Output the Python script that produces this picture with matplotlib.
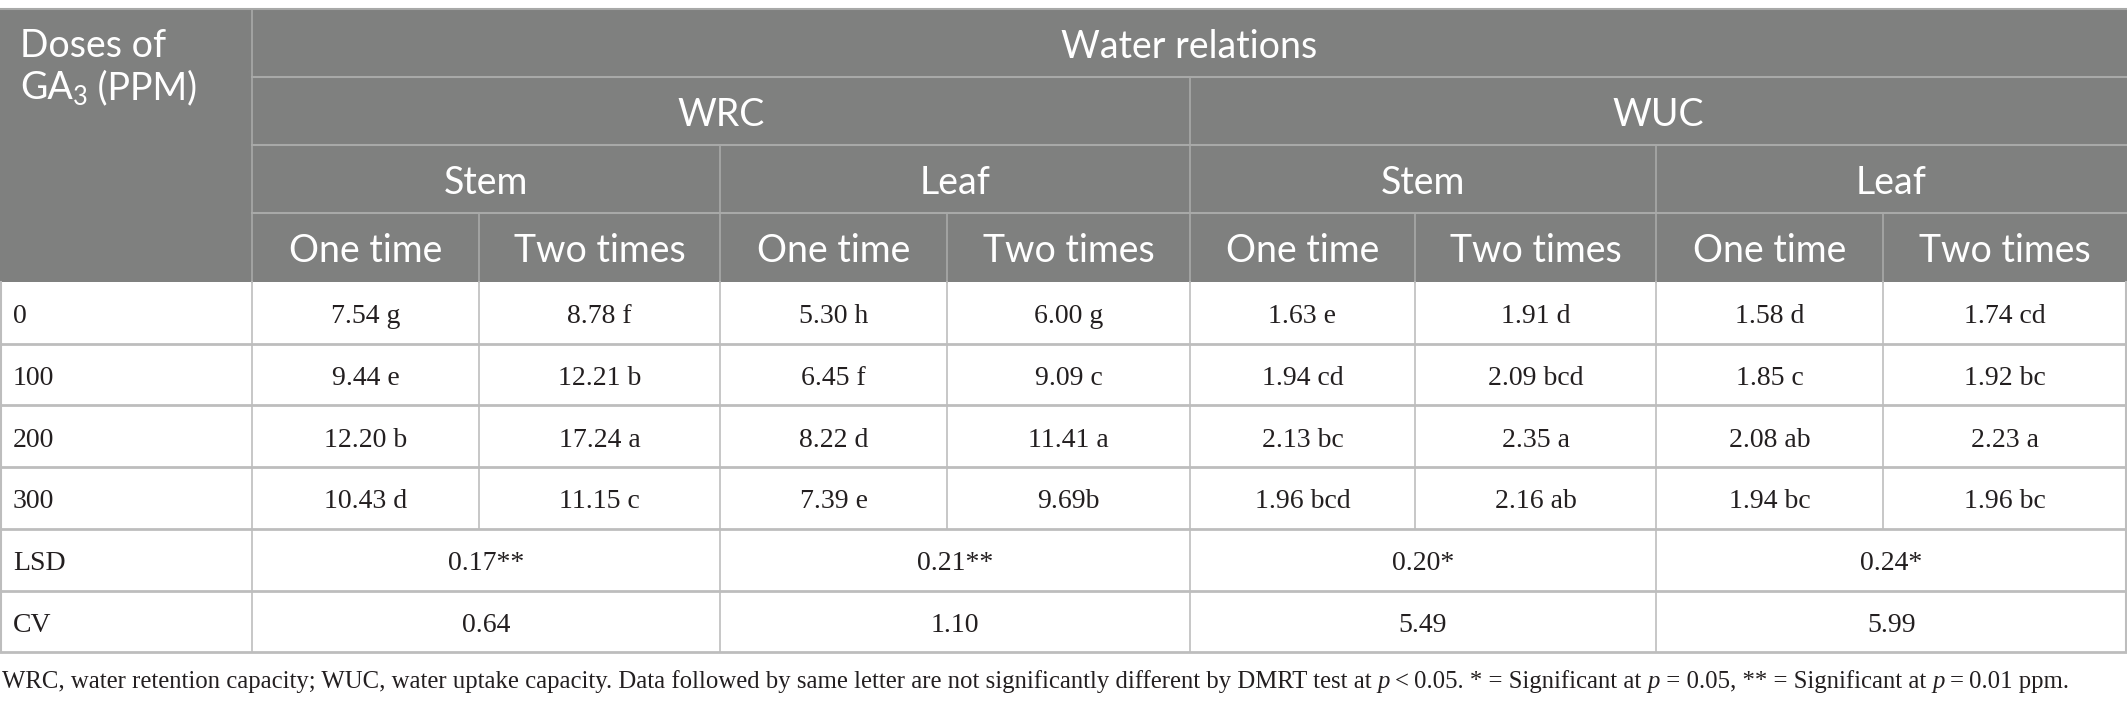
import matplotlib
matplotlib.use('Agg')
import matplotlib.pyplot as plt
from matplotlib.patches import Rectangle

# Table content
doses = ['0', '100', '200', '300']
wrc_stem_one = ['7.54 g', '9.44 e', '12.20 b', '10.43 d']
wrc_stem_two = ['8.78 f', '12.21 b', '17.24 a', '11.15 c']
wrc_leaf_one = ['5.30 h', '6.45 f', '8.22 d', '7.39 e']
wrc_leaf_two = ['6.00 g', '9.09 c', '11.41 a', '9.69b']
wuc_stem_one = ['1.63 e', '1.94 cd', '2.13 bc', '1.96 bcd']
wuc_stem_two = ['1.91 d', '2.09 bcd', '2.35 a', '2.16 ab']
wuc_leaf_one = ['1.58 d', '1.85 c', '2.08 ab', '1.94 bc']
wuc_leaf_two = ['1.74 cd', '1.92 bc', '2.23 a', '1.96 bc']
lsd_values = ['0.17**', '0.21**', '0.20*', '0.24*']
cv_values = ['0.64', '1.10', '5.49', '5.99']

top_header = 'Water relations'
group_header = ['WRC', 'WUC']
part_header = ['Stem', 'Leaf', 'Stem', 'Leaf']
time_header = ['One time', 'Two times'] * 4

W, H = 2127, 711
col_x = [0, 252, 479, 720, 947, 1190, 1415, 1656, 1883, 2127]
head_y = [9, 77, 145, 213, 282]
row_y = [282, 343.7, 405.4, 467, 528.8, 590.5, 652.2]

HEAD_BG = '#7f807f'
HEAD_LINE = '#a8a9a8'
GRID = '#bdbdbd'
TXT = '#231f20'
SANS = 'Lato'
SERIF = 'Liberation Serif'
HFS = 27
DFS = 20

fig = plt.figure(figsize=(W / 100, H / 100), dpi=100)
ax = fig.add_axes([0, 0, 1, 1])
ax.set_xlim(0, W)
ax.set_ylim(H, 0)
ax.axis('off')

# header block
ax.add_patch(Rectangle((0, head_y[0]), W, head_y[-1] - head_y[0],
                       facecolor=HEAD_BG, edgecolor='none'))
ax.plot([0, W], [head_y[0], head_y[0]], color=HEAD_LINE, lw=1.5)
for y in head_y[1:4]:
    ax.plot([col_x[1], W], [y, y], color=HEAD_LINE, lw=1.5)
ax.plot([col_x[1], col_x[1]], [head_y[0], head_y[-1]], color=HEAD_LINE, lw=1.2)
ax.plot([col_x[5], col_x[5]], [head_y[1], head_y[-1]], color=HEAD_LINE, lw=1.2)
for i in (3, 7):
    ax.plot([col_x[i], col_x[i]], [head_y[2], head_y[-1]], color=HEAD_LINE, lw=1.2)
for i in (2, 4, 6, 8):
    ax.plot([col_x[i], col_x[i]], [head_y[3], head_y[-1]], color=HEAD_LINE, lw=1.2)


def cx(a, b):
    return (col_x[a] + col_x[b]) / 2


def htext(x, y0, y1, s):
    # baseline placed so capitals sit centred in the band
    ax.text(x, (y0 + y1) / 2 + 14.5, s, ha='center', va='baseline', color='white',
            fontsize=HFS, family=SANS)


htext(cx(1, 9), head_y[0], head_y[1], top_header)
htext(cx(1, 5), head_y[1], head_y[2], group_header[0])
htext(cx(5, 9), head_y[1], head_y[2], group_header[1])
for k, s in enumerate(part_header):
    htext(cx(1 + 2 * k, 3 + 2 * k), head_y[2], head_y[3], s)
for k, s in enumerate(time_header):
    htext(cx(1 + k, 2 + k), head_y[3], head_y[4], s)

fig.canvas.draw()
renderer = fig.canvas.get_renderer()


def run_text(x, y, pieces, color, base_family, fs):
    # draw a sequence of text pieces one after another, return artists and end x
    inv = ax.transData.inverted()
    arts = []
    for s, kind in pieces:
        size = fs
        yy = y
        style = 'normal'
        if kind == 'sub':
            size = fs * 0.68
            yy = y + fs * 0.22
        elif kind == 'it':
            style = 'italic'
        t = ax.text(x, yy, s, ha='left', va='baseline', color=color, fontsize=size,
                    family=base_family, style=style)
        arts.append(t)
        bb = t.get_window_extent(renderer)
        x = inv.transform((bb.x1, bb.y0))[0]
    return arts, x


# first header cell
ax.text(20, 57, 'Doses of', ha='left', va='baseline', color='white',
        fontsize=HFS, family=SANS)
run_text(20, 99, [('GA', 'n'), ('3', 'sub'), (' (PPM)', 'n')], 'white', SANS, HFS)

# body grid
for y in row_y[1:]:
    ax.plot([0, W], [y, y], color=GRID, lw=2)
ax.plot([0.8, 0.8], [row_y[0], row_y[-1]], color=GRID, lw=1.5)
ax.plot([W - 0.8, W - 0.8], [row_y[0], row_y[-1]], color=GRID, lw=1.5)
for i in range(1, 9):
    ax.plot([col_x[i], col_x[i]], [row_y[0], row_y[4]], color=GRID, lw=1.2)
for i in (1, 3, 5, 7):
    ax.plot([col_x[i], col_x[i]], [row_y[4], row_y[6]], color=GRID, lw=1.2)


def dtext(x, r, s, ha='center'):
    yb = (row_y[r] + row_y[r + 1]) / 2 + 10.5
    ax.text(x, yb, s, ha=ha, va='baseline', color=TXT, fontsize=DFS, family=SERIF)


columns = [wrc_stem_one, wrc_stem_two, wrc_leaf_one, wrc_leaf_two,
           wuc_stem_one, wuc_stem_two, wuc_leaf_one, wuc_leaf_two]
for r, d in enumerate(doses):
    dtext(13, r, d, ha='left')
    for c, col in enumerate(columns):
        dtext(cx(1 + c, 2 + c), r, col[r])

for r, (label, vals) in enumerate([('LSD', lsd_values), ('CV', cv_values)]):
    dtext(13, 4 + r, label, ha='left')
    for k, v in enumerate(vals):
        dtext(cx(1 + 2 * k, 3 + 2 * k), 4 + r, v)

# footnote, shrunk so it ends where the reference ends (~x=2075)
foot = [
    ('WRC, water retention capacity; WUC, water uptake capacity. Data followed by '
     'same letter are not significantly different by DMRT test at ', 'n'),
    ('p', 'it'), ('\u2009<\u20090.05. * = Significant at ', 'n'),
    ('p', 'it'), (' = 0.05, ** = Significant at ', 'n'),
    ('p', 'it'), ('\u2009=\u20090.01 ppm.', 'n'),
]
fs_try = 19.5
arts, end_x = run_text(2, 688, foot, TXT, SERIF, fs_try)
for a in arts:
    a.remove()
fs_fit = fs_try * (2073 - 2) / (end_x - 2)
run_text(2, 688, foot, TXT, SERIF, fs_fit)

fig.savefig('out.png', dpi=100)
